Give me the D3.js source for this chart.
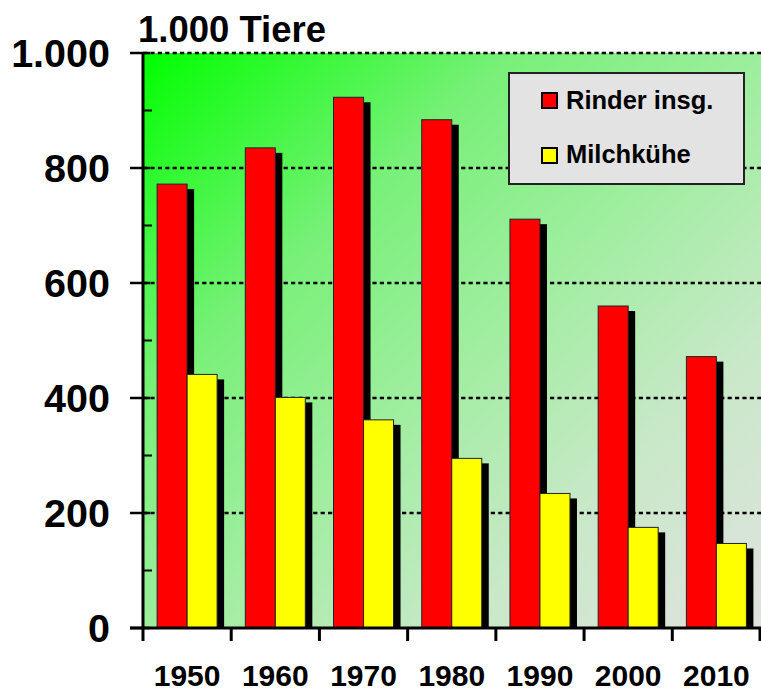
<!DOCTYPE html>
<html>
<head>
<meta charset="utf-8">
<script src="https://cdn.jsdelivr.net/npm/d3@7"></script>
<style>
  body { margin: 0; background: #fff; }
  text { font-family: Arial, "Liberation Sans", sans-serif; font-weight: bold; }
</style>
</head>
<body>
<div id="chart"></div>
<script>
    const WIDTH = 761;
    const HEIGHT = 691;

    // data (1.000 Tiere)
    const years = ["1950", "1960", "1970", "1980", "1990", "2000", "2010"];
    const seriesNames = ["Rinder insg.", "Milchkühe"];
    const rinder = [772, 835, 923, 884, 711, 560, 472];
    const milchkuehe = [441, 401, 362, 295, 234, 175, 147];
    const majorTicks = [0, 200, 400, 600, 800, 1000];
    const minorTicks = [100, 300, 500, 700, 900];

    const COLORS = ["#ff0000", "#ffff00"];
    const values = [rinder, milchkuehe];

    const PLOT_L = 143, PLOT_R = 760.5, PLOT_T = 53, PLOT_B = 628;

    const de = d3.formatLocale({ decimal: ",", thousands: ".", grouping: [3], currency: ["", " €"] });
    const fmt = de.format(",d");

    const svg = d3.select("#chart").append("svg")
        .attr("width", WIDTH)
        .attr("height", HEIGHT);

    const x = d3.scaleBand().domain(years).range([PLOT_L, PLOT_R]).padding(0);
    const x1 = d3.scaleBand().domain(seriesNames).range([0, x.bandwidth()]).paddingInner(0).paddingOuter(0.47);
    const y = d3.scaleLinear().domain([0, 1000]).range([PLOT_B, PLOT_T]);

    // background gradient
    const grad = svg.append("defs").append("linearGradient")
        .attr("id", "bg")
        .attr("x1", 0).attr("y1", 0).attr("x2", 1).attr("y2", 1);
    [[0, "#00ff00"], [0.3, "#78f078"], [0.5, "#9cee9c"], [0.75, "#c8e8c8"], [1, "#e0e2e0"]].forEach(function (s) {
        grad.append("stop").attr("offset", s[0]).attr("stop-color", s[1]);
    });

    svg.append("rect")
        .attr("x", PLOT_L).attr("y", PLOT_T)
        .attr("width", WIDTH - PLOT_L).attr("height", PLOT_B - PLOT_T)
        .attr("fill", "url(#bg)");

    // dotted gridlines
    svg.append("g").selectAll("line")
        .data(majorTicks.filter(function (d) { return d > 0; }))
        .join("line")
        .attr("x1", PLOT_L).attr("x2", WIDTH)
        .attr("y1", function (d) { return y(d); })
        .attr("y2", function (d) { return y(d); })
        .attr("stroke", "#000")
        .attr("stroke-width", 2.6)
        .attr("stroke-dasharray", "4.2,3.2");

    // bars with drop shadow
    const groups = svg.append("g").selectAll("g")
        .data(years)
        .join("g")
        .attr("transform", function (d) { return "translate(" + x(d) + ",0)"; });

    seriesNames.forEach(function (name, si) {
        groups.append("rect")
            .attr("x", x1(name) + 7)
            .attr("y", function (d, i) { return y(values[si][i]) + 5; })
            .attr("width", x1.bandwidth())
            .attr("height", function (d, i) { return PLOT_B - y(values[si][i]) - 5; })
            .attr("fill", "#000");
        groups.append("rect")
            .attr("x", x1(name))
            .attr("y", function (d, i) { return y(values[si][i]); })
            .attr("width", x1.bandwidth())
            .attr("height", function (d, i) { return PLOT_B - y(values[si][i]); })
            .attr("fill", COLORS[si])
            .attr("stroke", "#222")
            .attr("stroke-width", 1);
    });

    // axis lines
    svg.append("line")
        .attr("x1", PLOT_L).attr("x2", PLOT_L)
        .attr("y1", PLOT_T).attr("y2", PLOT_B)
        .attr("stroke", "#000").attr("stroke-width", 3);
    svg.append("line")
        .attr("x1", 130).attr("x2", WIDTH)
        .attr("y1", PLOT_B).attr("y2", PLOT_B)
        .attr("stroke", "#000").attr("stroke-width", 3);

    // y ticks
    svg.append("g").selectAll("line")
        .data(majorTicks)
        .join("line")
        .attr("x1", 130).attr("x2", 150)
        .attr("y1", function (d) { return y(d); })
        .attr("y2", function (d) { return y(d); })
        .attr("stroke", "#000").attr("stroke-width", 2.5);
    svg.append("g").selectAll("line")
        .data(minorTicks)
        .join("line")
        .attr("x1", PLOT_L).attr("x2", 152)
        .attr("y1", function (d) { return y(d); })
        .attr("y2", function (d) { return y(d); })
        .attr("stroke", "#000").attr("stroke-width", 2);

    svg.append("g").selectAll("text")
        .data(majorTicks)
        .join("text")
        .attr("x", 110)
        .attr("y", function (d) { return y(d); })
        .attr("dy", "0.36em")
        .attr("text-anchor", "end")
        .attr("font-size", 39.5)
        .text(function (d) { return fmt(d); });

    // x ticks at band edges
    const edges = years.map(function (d) { return x(d); }).concat([PLOT_R - 0.5]);
    svg.append("g").selectAll("line")
        .data(edges)
        .join("line")
        .attr("x1", function (d) { return d; })
        .attr("x2", function (d) { return d; })
        .attr("y1", PLOT_B).attr("y2", 641)
        .attr("stroke", "#000").attr("stroke-width", 3);

    svg.append("g").selectAll("text")
        .data(years)
        .join("text")
        .attr("x", function (d) { return x(d) + x.bandwidth() / 2; })
        .attr("y", 686)
        .attr("text-anchor", "middle")
        .attr("font-size", 30)
        .text(function (d) { return d; });

    // title
    svg.append("text")
        .attr("x", 138).attr("y", 42)
        .attr("font-size", 36.5)
        .text("1.000 Tiere");

    // legend
    const legend = svg.append("g");
    legend.append("rect")
        .attr("x", 509).attr("y", 73)
        .attr("width", 235).attr("height", 111)
        .attr("fill", "#e3e3e3")
        .attr("stroke", "#222").attr("stroke-width", 2);
    seriesNames.forEach(function (name, si) {
        legend.append("rect")
            .attr("x", 542).attr("y", 93 + si * 55)
            .attr("width", 15).attr("height", 15)
            .attr("fill", COLORS[si])
            .attr("stroke", "#000").attr("stroke-width", 2);
        legend.append("text")
            .attr("x", 566).attr("y", 109 + si * 54)
            .attr("font-size", 25.5)
            .text(name);
    });
</script>
</body>
</html>
